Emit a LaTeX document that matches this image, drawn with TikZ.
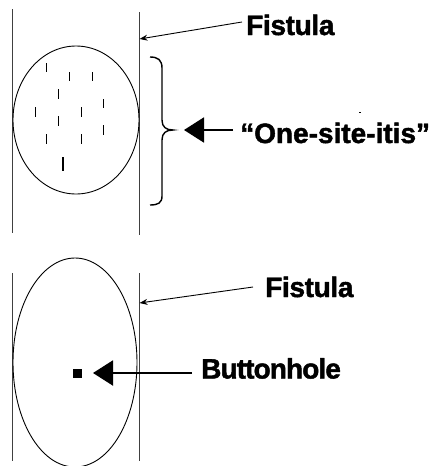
\documentclass[tikz,border=0pt]{standalone}
\usepackage{fontspec}
\setmainfont{Liberation Sans}
\newfontfamily\lblfont[FakeBold=1.6]{Liberation Sans Bold}
\newfontfamily\lblfontA[FakeBold=1.6,LetterSpace=-1.2]{Liberation Sans Bold}
\newfontfamily\lblfontB[FakeBold=1.6,LetterSpace=-3.2]{Liberation Sans Bold}
\usetikzlibrary{arrows.meta,shapes.geometric}
\begin{document}
\begin{tikzpicture}[x=1pt,y=-1pt,
  wall/.style={draw=black!75,line width=0.9pt},
  outline/.style={draw=black,line width=0.9pt},
  lbl/.style={inner sep=0pt,anchor=base west},
  thinarrow/.style={draw=black,line width=0.9pt,-{Stealth[length=8pt,width=6pt]}},
  bigarrow/.style={draw=black,line width=2pt,-{Triangle[length=20pt,width=25pt]}},
  nick/.style={draw=black,line width=0.8pt}]
\useasboundingbox (0,0) rectangle (432,466);
% ---------- top panel ----------
\draw[wall] (12,9) -- (12,233);
\draw[wall] (139,12) -- (139,235);
\coordinate (fw1) at (139.5,39);
\node[outline,ellipse,minimum width=126pt,minimum height=148pt,inner sep=0pt] (site) at (76,120) {};
\foreach \x/\ya/\yb in {46/63/72, 69/72/81, 92/72/81, 58/89/99, 103/99/108, 35/107/117,
                        81/107/117, 58/116/126, 103/125/135, 46/134/144, 81/134/144}
  \draw[nick] (\x,\ya) -- (\x,\yb);
\draw[draw=black,line width=1.3pt] (63,157) -- (63,171);
\node[lbl,font=\lblfontA\fontsize{28}{30}\selectfont] (fist1) at (246,35) {Fistula};
\draw[thinarrow] (242,22) -- (fw1);
% brace
\draw[draw=black,line width=1.4pt] (150,57) .. controls (158,57) and (162,60) .. (162,68)
  -- (162,120) .. controls (162,127) and (166,130) .. (173,130)
  .. controls (166,130) and (162,133) .. (162,140)
  -- (162,196) .. controls (162,203) and (158,205) .. (150,205);
\coordinate (bracetip) at (184,130);
\node[lbl,font=\lblfont\fontsize{28}{30}\selectfont] (onesite) at (240,143) {“One-site-itis”};
\coordinate (ostail) at (233,130);
\draw[bigarrow] (ostail) -- (bracetip);
\draw[line width=1pt] (359,112) -- (361,112);
% ---------- bottom panel ----------
\draw[wall] (12,273) -- (12,461);
\draw[wall] (139,273) -- (139,461);
\node[outline,ellipse,minimum width=124pt,minimum height=209pt,inner sep=0pt] (loop) at (75,362.5) {};
\node[fill=black,minimum size=9pt,inner sep=0pt] (bh) at (77.5,373.5) {};
\node[lbl,font=\lblfontA\fontsize{28}{30}\selectfont] (fist2) at (265,297) {Fistula};
\coordinate (fw2) at (139.5,303);
\draw[thinarrow] (253,287) -- (fw2);
\node[lbl,font=\lblfontB\fontsize{28}{30}\selectfont] (btn) at (201,378.5) {Buttonhole};
\coordinate (bhtail) at (192,373);
\coordinate (bhtip) at (93,373);
\draw[bigarrow] (bhtail) -- (bhtip);
\end{tikzpicture}
\end{document}
